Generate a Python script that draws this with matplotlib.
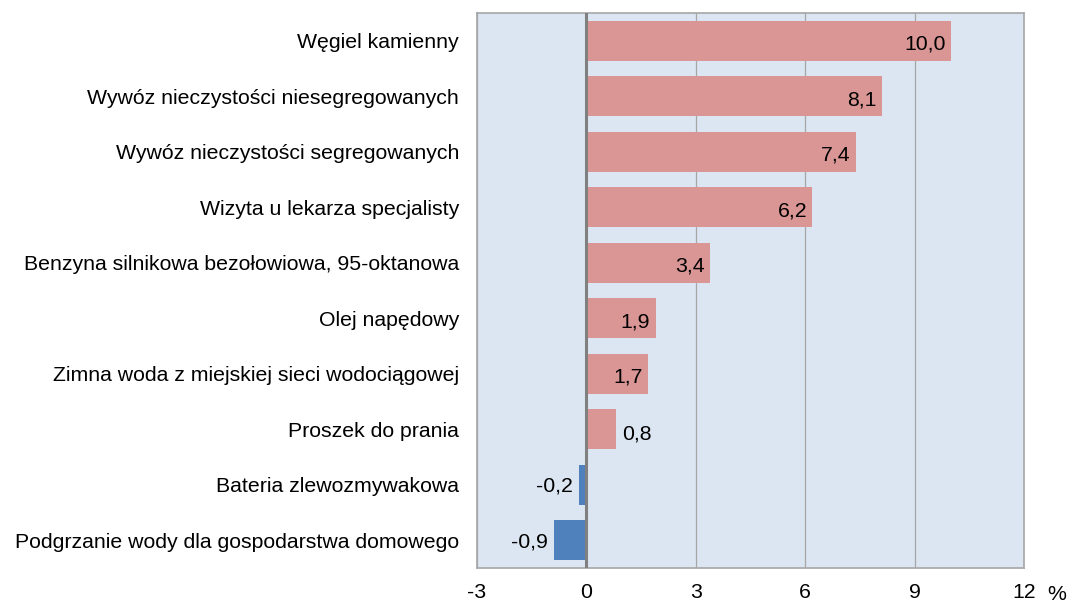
import matplotlib
matplotlib.use('Agg')
import matplotlib.pyplot as plt
import numpy as np

categories = [
    'Węgiel kamienny',
    'Wywóz nieczystości niesegregowanych',
    'Wywóz nieczystości segregowanych',
    'Wizyta u lekarza specjalisty',
    'Benzyna silnikowa bezołowiowa, 95-oktanowa',
    'Olej napędowy',
    'Zimna woda z miejskiej sieci wodociągowej',
    'Proszek do prania',
    'Bateria zlewozmywakowa',
    'Podgrzanie wody dla gospodarstwa domowego',
]
values = [10.0, 8.1, 7.4, 6.2, 3.4, 1.9, 1.7, 0.8, -0.2, -0.9]
xticks = [-3, 0, 3, 6, 9, 12]

plt.rcParams['font.family'] = ['Liberation Sans', 'DejaVu Sans']
FS = 15.3

fig = plt.figure(figsize=(10.67, 6.03), dpi=100)
ax = fig.add_axes([477 / 1067, 1 - 568 / 603, 547 / 1067, 555 / 603])
ax.set_facecolor('#DCE6F2')

y = np.arange(len(categories))
colors = ['#D99694' if v >= 0 else '#4F81BD' for v in values]
ax.barh(y, values, height=0.72, color=colors, zorder=3)

ax.set_xlim(-3, 12)
ax.set_ylim(len(categories) - 0.5, -0.5)
ax.set_xticks(xticks)
ax.set_xticklabels([str(t) for t in xticks], fontsize=FS)
ax.set_yticks(y)
ax.set_yticklabels(categories, fontsize=FS)
ax.tick_params(length=0)
ax.tick_params(axis='y', pad=13)
ax.tick_params(axis='x', pad=11)
ax.grid(axis='x', color='#A6A6A6', linewidth=0.9, zorder=1)
ax.axvline(0, color='#808080', linewidth=2.2, zorder=4)
for s in ax.spines.values():
    s.set_color('#A6A6A6')
    s.set_linewidth(1.2)

for yi, v in zip(y, values):
    txt = f'{v:.1f}'.replace('.', ',')
    if v >= 1:
        ax.text(v - 0.15, yi + 0.06, txt, ha='right', va='center', fontsize=FS, zorder=5)
    elif v >= 0:
        ax.text(v + 0.18, yi + 0.09, txt, ha='left', va='center', fontsize=FS, zorder=5)
    else:
        ax.text(v - 0.17, yi + 0.03, txt, ha='right', va='center', fontsize=FS, zorder=5)

fig.text(1057 / 1067, 1 - 594 / 603, '%', ha='center', va='center', fontsize=FS)

fig.savefig('out.png', dpi=100)
